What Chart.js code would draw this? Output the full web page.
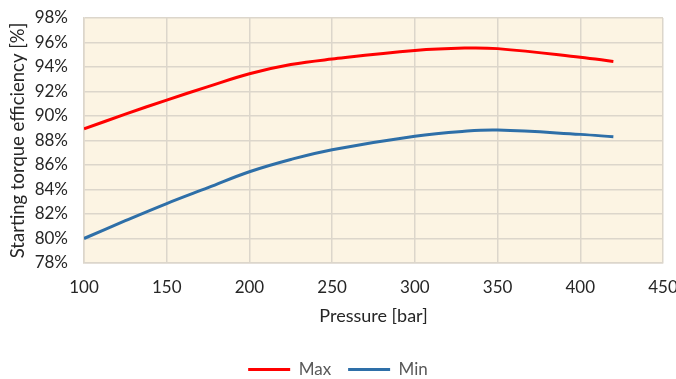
<!DOCTYPE html>
<html>
<head>
<meta charset="utf-8">
<script src="https://cdn.jsdelivr.net/npm/chart.js@4"></script>
<style>
  html, body { margin: 0; padding: 0; background: #ffffff; }
  #wrap { width: 676px; height: 379px; }
</style>
</head>
<body>
<div id="wrap"><canvas id="chart" width="676" height="379"></canvas></div>
<script>
// pressure [bar]
const pressure = [100, 125, 150, 175, 200, 225, 250, 300, 330, 350, 400, 420];
// starting torque efficiency [%]
const maxValues = [88.95, 90.15, 91.3, 92.4, 93.45, 94.2, 94.65, 95.35, 95.55, 95.5, 94.8, 94.45];
const minValues = [80.0, 81.45, 82.85, 84.15, 85.45, 86.45, 87.25, 88.35, 88.75, 88.85, 88.5, 88.3];
const yTicks = [78, 80, 82, 84, 86, 88, 90, 92, 94, 96, 98];

const FONT = 'Lato, "Open Sans", sans-serif';

// fond crème de la zone de tracé
const plotBackground = {
    id: 'plotBackground',
    beforeDraw(chart) {
        const { ctx, chartArea } = chart;
        ctx.save();
        ctx.fillStyle = '#fcf4e3';
        ctx.fillRect(chartArea.left, chartArea.top, chartArea.right - chartArea.left, chartArea.bottom - chartArea.top);
        ctx.restore();
    }
};

function toPoints(values) {
    return pressure.map((p, i) => ({ x: p, y: values[i] }));
}

const ctx = document.getElementById('chart').getContext('2d');
new Chart(ctx, {
    type: 'line',
    data: {
        datasets: [
            {
                label: 'Max',
                data: toPoints(maxValues),
                borderColor: '#ff0000',
                backgroundColor: '#ff0000',
                borderWidth: 3,
                pointRadius: 0,
                tension: 0.4,
                fill: false
            },
            {
                label: 'Min',
                data: toPoints(minValues),
                borderColor: '#2e6fa8',
                backgroundColor: '#2e6fa8',
                borderWidth: 3,
                pointRadius: 0,
                tension: 0.4,
                fill: false
            }
        ]
    },
    options: {
        responsive: false,
        animation: false,
        layout: { padding: { top: 18, right: 0, left: 0, bottom: -9 } },
        scales: {
            x: {
                type: 'linear',
                min: 100,
                max: 450,
                ticks: { stepSize: 50, color: '#262626', font: { family: FONT, size: 17 }, padding: 14 },
                grid: { color: '#dcd6cb', lineWidth: 1.5, drawTicks: false },
                border: { color: '#dcd6cb', width: 1.5 },
                title: { display: true, text: 'Pressure [bar]', color: '#262626', font: { family: FONT, size: 18 }, padding: { top: 0, bottom: 17 } },
                afterFit(scale) { scale.height = 81; scale.paddingRight = 13; }
            },
            y: {
                min: 78,
                max: 98,
                afterBuildTicks(scale) { scale.ticks = yTicks.map(v => ({ value: v })); },
                ticks: { color: '#262626', font: { family: FONT, size: 17 }, padding: 16, callback: v => v + '%' },
                grid: { color: '#dcd6cb', lineWidth: 1.5, drawTicks: false },
                border: { color: '#dcd6cb', width: 1.5 },
                title: { display: true, text: 'Starting torque efficiency [%]', color: '#262626', font: { family: FONT, size: 18.5 }, padding: { top: 7, bottom: 0 } },
                afterFit(scale) { scale.width = 84; scale.paddingTop = 0; }
            }
        },
        plugins: {
            legend: {
                position: 'bottom',
                labels: {
                    usePointStyle: true,
                    pointStyle: 'line',
                    pointStyleWidth: 42,
                    color: '#595959',
                    font: { family: FONT, size: 17 },
                    padding: 17
                }
            },
            tooltip: { enabled: false }
        }
    },
    plugins: [plotBackground]
});
</script>
</body>
</html>
